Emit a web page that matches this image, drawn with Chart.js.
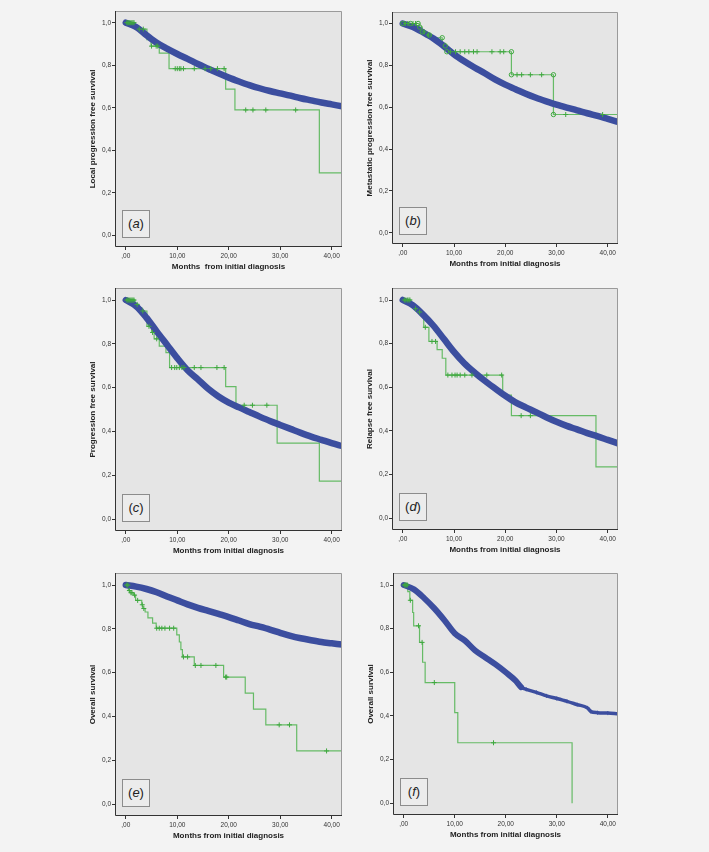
<!DOCTYPE html>
<html>
<head>
<meta charset="utf-8">
<script src="https://cdn.jsdelivr.net/npm/chart.js@4.4.1/dist/chart.umd.min.js"></script>
<style>
  body { margin: 0; background: #f3f3f3; width: 709px; height: 852px; overflow: hidden; position: relative; }
  canvas { position: absolute; }
  .tag { position: absolute; width: 26px; height: 26px; border: 1px solid #8c8c8c; background: #ececec;
         font: 13px "Liberation Sans", Arial, sans-serif; color: #222; text-align: center; line-height: 26px; }
</style>
</head>
<body>
<script>
// Ejes
const monthTicks = [0, 10, 20, 30, 40];
const survTicks = [0, 0.2, 0.4, 0.6, 0.8, 1.0];

// Curva azul (cohorte de referencia), meses cada 2
const cohortMonths = [0, 2, 4, 6, 8, 10, 12, 14, 16, 18, 20, 22, 24, 26, 28, 30, 32, 34, 36, 38, 40, 42];
const cohortA = [1.0, 0.98, 0.942, 0.906, 0.878, 0.853, 0.83, 0.806, 0.784, 0.762, 0.742, 0.724, 0.707, 0.692, 0.679, 0.668, 0.657, 0.645, 0.635, 0.625, 0.616, 0.607];
const cohortB = [1.0, 0.983, 0.957, 0.928, 0.892, 0.853, 0.82, 0.79, 0.762, 0.733, 0.708, 0.686, 0.664, 0.645, 0.628, 0.612, 0.598, 0.585, 0.571, 0.558, 0.544, 0.53];
const cohortC = [1.0, 0.972, 0.92, 0.857, 0.796, 0.735, 0.68, 0.638, 0.595, 0.56, 0.532, 0.51, 0.489, 0.468, 0.448, 0.43, 0.412, 0.394, 0.377, 0.362, 0.347, 0.334];
const cohortD = [1.0, 0.975, 0.932, 0.882, 0.822, 0.762, 0.71, 0.668, 0.63, 0.595, 0.561, 0.531, 0.508, 0.486, 0.463, 0.442, 0.423, 0.407, 0.39, 0.375, 0.359, 0.343];
const cohortE = [1.0, 0.993, 0.982, 0.967, 0.948, 0.93, 0.912, 0.896, 0.882, 0.868, 0.854, 0.838, 0.822, 0.81, 0.797, 0.782, 0.768, 0.757, 0.748, 0.74, 0.734, 0.728];
const cohortFMonths = [0, 2, 4, 6, 8, 10, 12, 14, 16, 18, 20, 22, 23, 24, 26, 28, 30, 32, 34, 36, 36.7, 38, 40, 42];
const cohortF = [1.0, 0.98, 0.94, 0.893, 0.838, 0.778, 0.745, 0.7, 0.668, 0.636, 0.6, 0.56, 0.532, 0.522, 0.508, 0.492, 0.48, 0.467, 0.452, 0.437, 0.42, 0.415, 0.413, 0.41];

// Curva verde (Kaplan-Meier escalonada) y censuras
const stepAT = [0, 1.8, 4.1, 4.9, 6.5, 8.4, 19.4, 21.2, 37.6, 42];
const stepAS = [1.0, 0.97, 0.92, 0.89, 0.857, 0.784, 0.688, 0.59, 0.294, 0.294];
const censA = [0.2, 0.4, 0.6, 0.8, 1.0, 1.2, 1.4, 1.6, 2.6, 3.4, 5.0, 5.9, 6.2, 9.6, 10.0, 10.4, 10.7, 11.2, 13.3, 15.4, 16.5, 17.8, 19.1, 23.3, 24.7, 27.2, 33.0];

const stepBT = [0, 3.2, 3.8, 4.5, 5.3, 7.7, 8.3, 8.6, 21.2, 29.4, 42];
const stepBS = [1.0, 0.983, 0.96, 0.945, 0.932, 0.905, 0.893, 0.865, 0.755, 0.565, 0.565];
const censB = [0.5, 1.0, 2.0, 2.5, 4.2, 5.0, 9.3, 10.3, 11.2, 12.1, 12.9, 13.8, 14.5, 17.4, 19.0, 19.7, 22.3, 23.2, 24.9, 27.1, 31.8, 39.0];
const circleBT = [0, 1.5, 3.0, 3.3, 3.8, 5.2, 7.7, 8.3, 8.6, 21.2, 21.2, 29.4, 29.4];
const circleBS = [1.0, 1.0, 1.0, 0.983, 0.96, 0.945, 0.932, 0.893, 0.865, 0.865, 0.755, 0.755, 0.565];

const stepCT = [0, 1.8, 2.5, 3.1, 4.1, 5.0, 5.5, 6.5, 7.8, 8.5, 19.4, 21.4, 29.4, 37.6, 42];
const stepCS = [1.0, 0.98, 0.965, 0.95, 0.88, 0.852, 0.823, 0.79, 0.76, 0.692, 0.605, 0.52, 0.347, 0.174, 0.174];
const censC = [0.2, 0.4, 0.6, 0.8, 1.0, 1.2, 1.4, 1.6, 2.2, 3.3, 4.5, 5.2, 6.0, 8.9, 9.5, 9.9, 10.4, 10.9, 11.3, 13.3, 14.6, 17.7, 19.1, 23.0, 24.6, 27.4];

const stepDT = [0, 1.6, 2.1, 3.1, 3.6, 4.1, 5.1, 6.7, 7.7, 8.4, 19.5, 21.2, 37.7, 42];
const stepDS = [1.0, 0.985, 0.96, 0.945, 0.93, 0.875, 0.81, 0.773, 0.733, 0.656, 0.564, 0.47, 0.235, 0.235];
const censD = [0.3, 0.6, 0.9, 1.2, 1.4, 2.5, 3.3, 4.4, 5.7, 6.4, 8.8, 9.6, 10.2, 10.6, 11.2, 12.1, 13.5, 16.4, 19.3, 23.1, 24.9];

const stepET = [0, 0.5, 0.8, 1.5, 1.9, 3.1, 3.3, 3.75, 4.3, 5.2, 5.9, 9.9, 10.4, 10.7, 11.0, 13.3, 19.0, 23.2, 24.8, 27.2, 33.2, 42];
const stepES = [1.0, 0.975, 0.965, 0.954, 0.93, 0.91, 0.893, 0.877, 0.85, 0.826, 0.803, 0.773, 0.74, 0.705, 0.672, 0.633, 0.58, 0.507, 0.434, 0.362, 0.243, 0.243];
const censE = [0.2, 0.4, 0.7, 1.0, 1.2, 1.7, 2.3, 3.2, 3.5, 6.0, 6.5, 7.0, 7.6, 8.5, 9.3, 11.2, 12.0, 13.5, 14.6, 17.5, 19.4, 19.6, 29.8, 31.8, 39.0];

const stepFT = [0, 0.8, 1.2, 1.75, 1.95, 3.1, 3.7, 4.2, 10.0, 10.6, 33.0];
const stepFS = [1.0, 0.97, 0.93, 0.874, 0.813, 0.737, 0.646, 0.553, 0.415, 0.277, 0.0];
const censF = [0.1, 0.3, 0.5, 0.7, 1.3, 2.9, 3.6, 6.0, 17.6];

const yTitles = ['Local progression free survival', 'Metastatic progression free survival', 'Progression free survival',
                 'Relapse free survival', 'Overall survival', 'Overall survival'];
const xTitles = ['Months  from initial diagnosis', 'Months from initial diagnosis', 'Months from initial diagnosis',
                 'Months from initial diagnosis', 'Months from initial diagnosis', 'Months from initial diagnosis'];
const letters = ['a', 'b', 'c', 'd', 'e', 'f'];

// Posición de cada área de gráfico [izq, arriba, der, abajo]
const boxes = [
  [115, 11, 342, 247], [392, 12, 618, 244],
  [115, 288, 342, 531], [392, 288, 618, 530],
  [115, 573, 342, 816], [393, 573, 618, 815]
];

const BLUE = '#3c4e9f';
const GREEN = '#66bb66';
const GREEN_MARK = '#3fa83f';

Chart.defaults.font.family = '"Liberation Sans", Arial, sans-serif';

const panels = [
  { blueT: cohortMonths, blueS: cohortA, stepT: stepAT, stepS: stepAS, cens: censA },
  { blueT: cohortMonths, blueS: cohortB, stepT: stepBT, stepS: stepBS, cens: censB, circT: circleBT, circS: circleBS },
  { blueT: cohortMonths, blueS: cohortC, stepT: stepCT, stepS: stepCS, cens: censC },
  { blueT: cohortMonths, blueS: cohortD, stepT: stepDT, stepS: stepDS, cens: censD },
  { blueT: cohortMonths, blueS: cohortE, stepT: stepET, stepS: stepES, cens: censE },
  { blueT: cohortFMonths, blueS: cohortF, stepT: stepFT, stepS: stepFS, cens: censF, thinAfter: 23 }
];

function valorEnEscalon(ts, ss, t) {
  let v = ss[0];
  for (let i = 0; i < ts.length; i++) if (ts[i] <= t) v = ss[i];
  return v;
}

const fondoYMarco = {
  id: 'fondoYMarco',
  beforeDraw(chart) {
    const { ctx, chartArea: a } = chart;
    ctx.save();
    ctx.fillStyle = '#e5e5e5';
    ctx.fillRect(a.left, a.top, a.width, a.height);
    ctx.restore();
  },
  afterDraw(chart) {
    const { ctx, chartArea: a } = chart;
    ctx.save();
    ctx.lineWidth = 1;
    ctx.strokeStyle = '#9a9a9a';
    ctx.beginPath();
    ctx.moveTo(a.left, a.top + 0.5); ctx.lineTo(a.right - 0.5, a.top + 0.5); ctx.lineTo(a.right - 0.5, a.bottom);
    ctx.stroke();
    ctx.strokeStyle = '#333';
    ctx.beginPath();
    ctx.moveTo(a.left + 0.5, a.top); ctx.lineTo(a.left + 0.5, a.bottom - 0.5); ctx.lineTo(a.right, a.bottom - 0.5);
    ctx.stroke();
    ctx.restore();
  }
};

panels.forEach((p, i) => {
  const [L, T, R, B] = boxes[i];
  const canvas = document.createElement('canvas');
  canvas.width = (R - L) + 46;
  canvas.height = (B - T) + 41;
  canvas.style.left = (L - 40) + 'px';
  canvas.style.top = (T - 11) + 'px';
  document.body.appendChild(canvas);

  const tag = document.createElement('div');
  tag.className = 'tag';
  tag.style.left = (L + 7) + 'px';
  tag.style.top = (B - 37) + 'px';
  tag.innerHTML = '(<i>' + letters[i] + '</i>)';
  document.body.appendChild(tag);

  const datasets = [];
  datasets.push({
    data: p.cens.map(t => ({ x: t, y: valorEnEscalon(p.stepT, p.stepS, t) })),
    showLine: false, pointStyle: 'cross', pointRadius: 2.5, borderWidth: 1,
    borderColor: GREEN_MARK, backgroundColor: GREEN_MARK, order: 0
  });
  if (p.circT) {
    datasets.push({
      data: p.circT.map((t, k) => ({ x: t, y: p.circS[k] })),
      showLine: false, pointStyle: 'circle', pointRadius: 2.2, borderWidth: 1,
      borderColor: GREEN_MARK, backgroundColor: 'rgba(0,0,0,0)', order: 0
    });
  }
  datasets.push({
    data: p.blueT.map((t, k) => ({ x: t, y: p.blueS[k] })),
    borderColor: BLUE, backgroundColor: BLUE, borderWidth: 6.5,
    borderCapStyle: 'round', borderJoinStyle: 'round',
    cubicInterpolationMode: 'monotone',
    pointRadius: p.thinAfter ? (c => c.parsed && c.parsed.x >= p.thinAfter ? 2 : 0) : 0,
    pointStyle: 'cross', pointBorderWidth: 1,
    segment: p.thinAfter ? { borderWidth: c => c.p0.parsed.x >= p.thinAfter ? 3.5 : 6 } : undefined,
    order: 1
  });
  datasets.push({
    data: p.stepT.map((t, k) => ({ x: t, y: p.stepS[k] })),
    stepped: 'before', borderColor: GREEN, borderWidth: 1.2, pointRadius: 0, order: 2
  });

  new Chart(canvas, {
    type: 'line',
    data: { datasets },
    options: {
      responsive: false,
      animation: false,
      layout: { padding: { top: 11, right: 6, left: 0, bottom: 0 } },
      plugins: { legend: { display: false }, tooltip: { enabled: false } },
      scales: {
        x: {
          type: 'linear', min: -2.1, max: 42,
          afterFit: s => { s.height = 30; },
          afterBuildTicks: s => { s.ticks = monthTicks.map(v => ({ value: v })); },
          ticks: {
            callback: v => (v === 0 ? '' : String(v)) + ',00',
            font: { size: 6.5 }, color: '#333', padding: 2, maxRotation: 0, autoSkip: false
          },
          grid: { drawOnChartArea: false, tickLength: 3, color: '#333' },
          border: { display: false },
          title: { display: true, text: xTitles[i], font: { size: 8, weight: 'bold' }, color: '#222', padding: { top: 0, bottom: 5 } }
        },
        y: {
          min: -0.054, max: 1.055,
          afterFit: s => { s.width = 40; },
          afterBuildTicks: s => { s.ticks = survTicks.map(v => ({ value: v })); },
          ticks: {
            callback: v => v.toFixed(1).replace('.', ','),
            font: { size: 6.5 }, color: '#333', padding: 1
          },
          grid: { drawOnChartArea: false, tickLength: 3, color: '#333' },
          border: { display: false },
          title: { display: true, text: yTitles[i], font: { size: 8, weight: 'bold' }, color: '#222', padding: { top: 13, bottom: 0 } }
        }
      }
    },
    plugins: [fondoYMarco]
  });
});
</script>
</body>
</html>
